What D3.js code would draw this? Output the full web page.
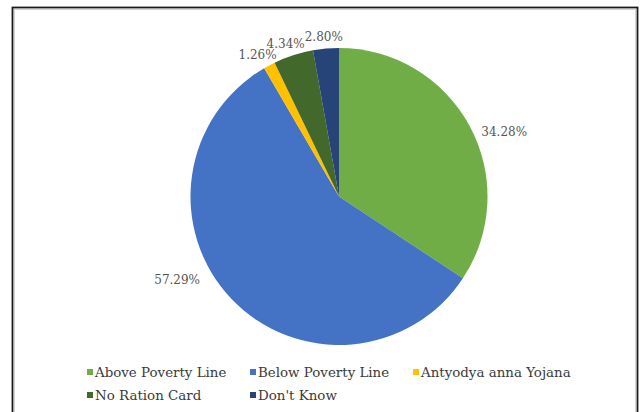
<!DOCTYPE html>
<html>
<head>
<meta charset="utf-8">
<script src="https://cdn.jsdelivr.net/npm/d3@7"></script>
<style>
  html, body { margin: 0; padding: 0; background: #ffffff; }
  svg { display: block; }
</style>
</head>
<body>
<svg id="chart" width="642" height="412"></svg>
<script>
// Ration card status of households (share of respondents, %)
const categories = ["Above Poverty Line", "Below Poverty Line", "Antyodya anna Yojana", "No Ration Card", "Don't Know"];
const shares = [34.28, 57.29, 1.26, 4.34, 2.80];
const sliceColors = ["#70AD47", "#4472C4", "#FFC000", "#43682B", "#264478"];

const W = 642, H = 412;
const svg = d3.select("#chart");
const fontFamily = "'DejaVu Serif', 'Liberation Serif', serif";

// chart frame: dark outer rule with a faint inner rule, open at the bottom
svg.append("rect")
  .attr("x", 12.5).attr("y", 7.5)
  .attr("width", 625).attr("height", 420)
  .attr("fill", "#ffffff")
  .attr("stroke", "#1a1a1a").attr("stroke-width", 1.8);
svg.append("rect")
  .attr("x", 14.5).attr("y", 9.5)
  .attr("width", 621).attr("height", 420)
  .attr("fill", "none")
  .attr("stroke", "#d4d4d4").attr("stroke-width", 1);

const cx = 339, cy = 196.5, radius = 148.5;

const color = d3.scaleOrdinal().domain(categories).range(sliceColors);

const pie = d3.pie()
  .value((d, i) => shares[i])
  .sort(null)
  .startAngle(0)
  .endAngle(2 * Math.PI);

const arcs = pie(categories);
const arc = d3.arc().innerRadius(0).outerRadius(radius);

const g = svg.append("g").attr("transform", `translate(${cx},${cy})`);

g.selectAll("path.slice")
  .data(arcs)
  .join("path")
  .attr("class", "slice")
  .attr("d", arc)
  .attr("fill", d => color(d.data));

// outside-end data labels; the two large slices get a best-fit nudge
const labelNudge = {
  "Above Poverty Line": [9, 12],
  "Below Poverty Line": [-33, -27]
};
const labelFont = 12;
const labels = g.selectAll("text.value")
  .data(arcs)
  .join("text")
  .attr("class", "value")
  .attr("font-family", fontFamily)
  .attr("font-size", labelFont)
  .attr("fill", "#555555")
  .attr("text-anchor", "middle")
  .attr("dominant-baseline", "central")
  .text(d => d3.format(".2f")(shares[d.index]) + "%");

labels.each(function(d) {
  const a = (d.startAngle + d.endAngle) / 2;
  const s = Math.sin(a), c = -Math.cos(a);
  const w = this.getComputedTextLength();
  const h = labelFont;
  const gap = 6;
  const nudge = labelNudge[d.data] || [0, 0];
  const x = (radius + gap) * s + (w / 2) * s + nudge[0];
  const y = (radius + gap) * c + (h / 2) * c + nudge[1];
  d3.select(this).attr("x", x).attr("y", y);
});

// legend: three columns, wrapping onto a second row
const legendX = 87, legendY = 372, colW = 163, rowH = 23, perRow = 3;
const legend = svg.append("g").attr("class", "legend");
const items = legend.selectAll("g.item")
  .data(categories)
  .join("g")
  .attr("class", "item")
  .attr("transform", (d, i) => `translate(${legendX + (i % perRow) * colW},${legendY + Math.floor(i / perRow) * rowH})`);

items.append("rect")
  .attr("x", 0).attr("y", -3)
  .attr("width", 6).attr("height", 6)
  .attr("fill", d => color(d));

items.append("text")
  .attr("x", 8).attr("y", 0)
  .attr("dominant-baseline", "central")
  .attr("font-family", fontFamily)
  .attr("font-size", 13.4)
  .attr("fill", "#3a3a3a")
  .text(d => d);
</script>
</body>
</html>
